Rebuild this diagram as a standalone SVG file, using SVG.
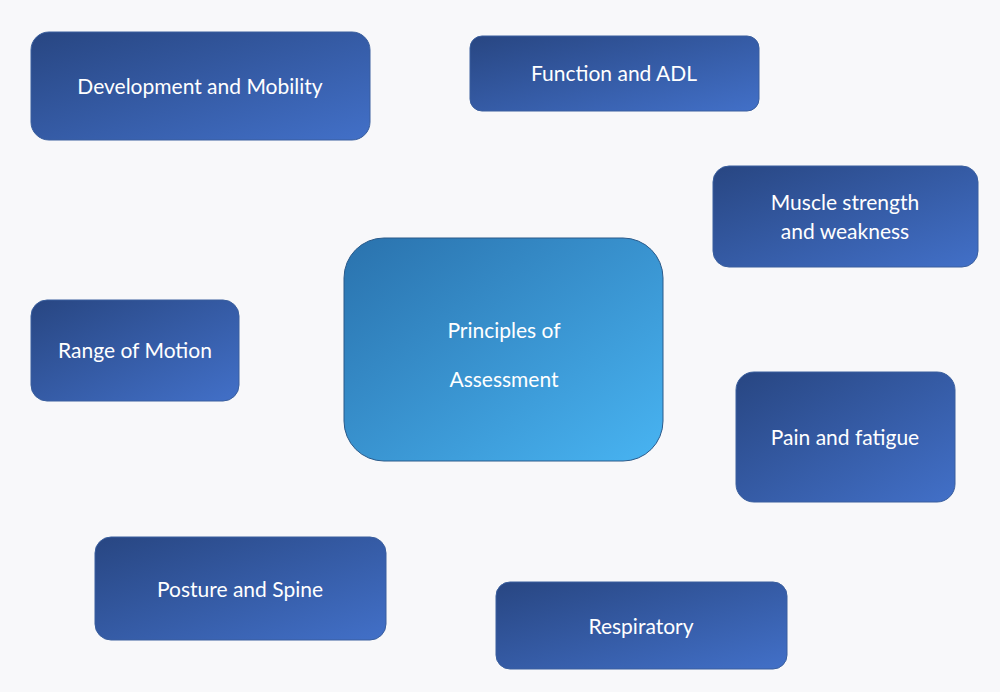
<svg xmlns="http://www.w3.org/2000/svg" width="1000" height="692" viewBox="0 0 1000 692">
<defs>
<linearGradient id="g" x1="0" y1="0" x2="1" y2="1"><stop offset="0" stop-color="#284682"/><stop offset="1" stop-color="#4270c8"/></linearGradient>
<linearGradient id="c" x1="0" y1="0" x2="1" y2="1"><stop offset="0" stop-color="#2a72ad"/><stop offset="1" stop-color="#48b4f2"/></linearGradient>
<style>
.n{fill:url(#g);stroke:#3a5f9e;stroke-width:1}
.t{fill:#fff;font-family:Lato,"Open Sans",sans-serif;font-size:21px;text-anchor:middle}
</style>
</defs>
<rect width="1000" height="692" fill="#f8f8fa"/>
<g id="dev"><rect class="n" x="31" y="32" width="339" height="108" rx="18"/><text class="t" x="200" y="94">Development and Mobility</text></g>
<g id="func"><rect class="n" x="470" y="36" width="289" height="75" rx="12"/><text class="t" x="614" y="81">Function and ADL</text></g>
<g id="muscle"><rect class="n" x="713" y="166" width="265" height="101" rx="16"/><text class="t" x="845" y="210">Muscle strength</text><text class="t" x="845" y="239">and weakness</text></g>
<g id="rom"><rect class="n" x="31" y="300" width="208" height="101" rx="16"/><text class="t" x="135" y="358">Range of Motion</text></g>
<g id="center"><rect x="344" y="238" width="319" height="223" rx="40" fill="url(#c)" stroke="#2a5a8a"/><text class="t" x="504" y="338" font-size="33">Principles of</text><text class="t" x="504" y="387" font-size="33">Assessment</text></g>
<g id="pain"><rect class="n" x="736" y="372" width="219" height="130" rx="18"/><text class="t" x="845" y="445">Pain and fatigue</text></g>
<g id="posture"><rect class="n" x="95" y="537" width="291" height="103" rx="16"/><text class="t" x="240" y="597">Posture and Spine</text></g>
<g id="resp"><rect class="n" x="496" y="582" width="291" height="87" rx="14"/><text class="t" x="641" y="634">Respiratory</text></g>
<g id="connectors"/>
</svg>
